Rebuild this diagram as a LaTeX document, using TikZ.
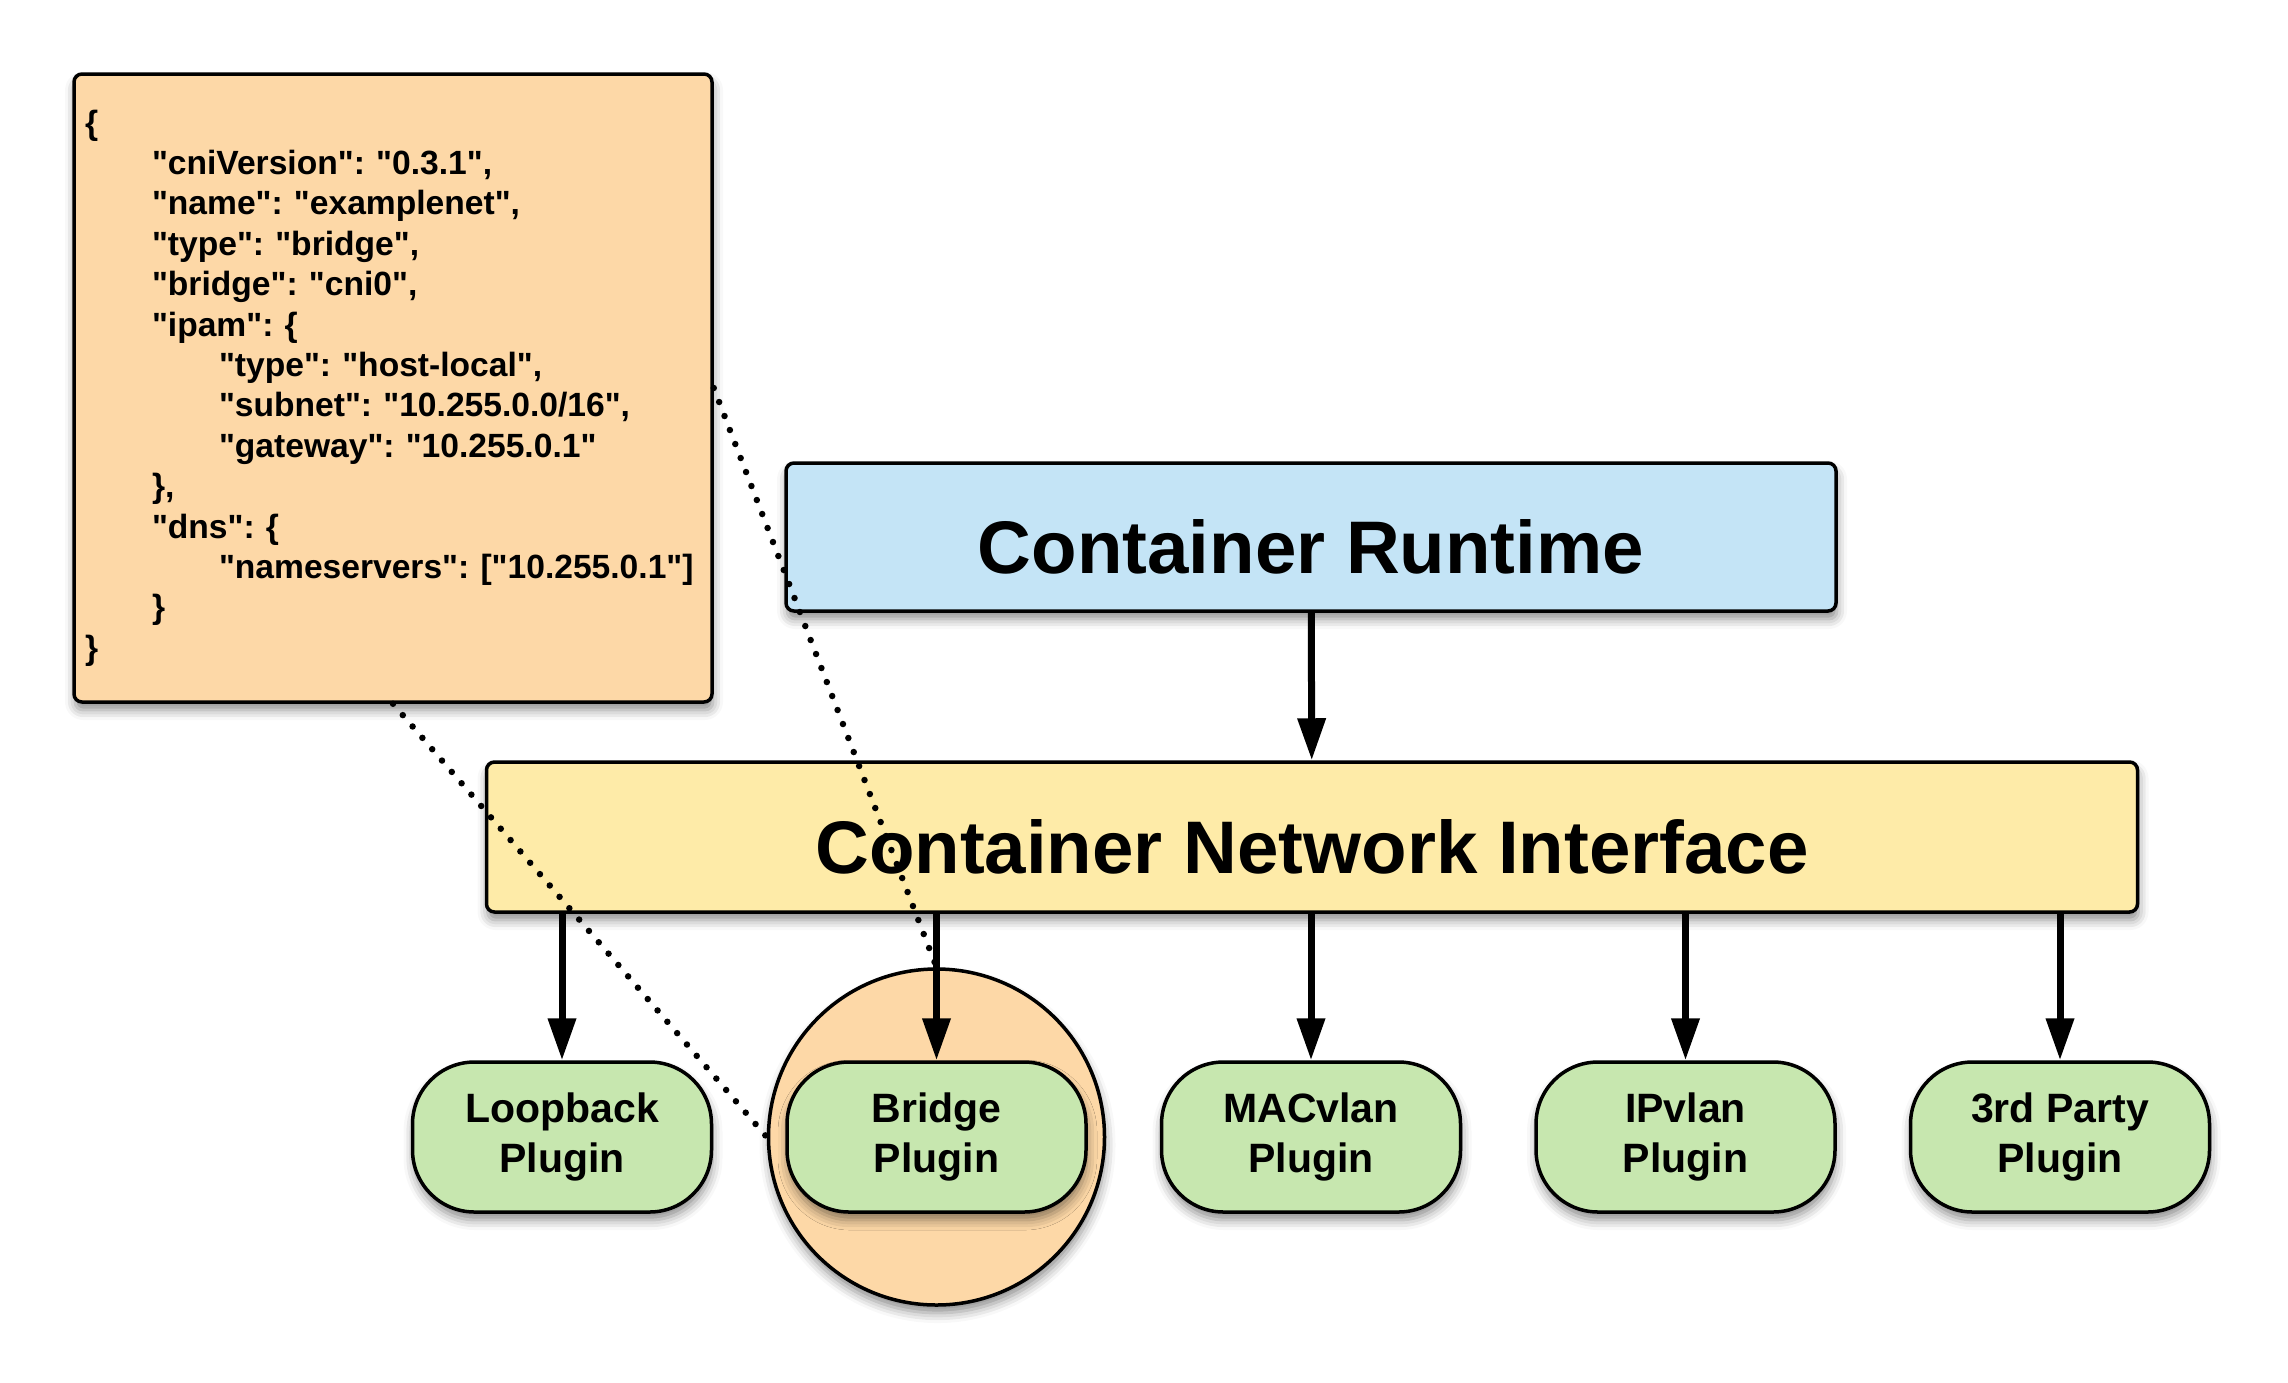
\documentclass[tikz,border=0pt]{standalone}
\usepackage{fontspec}
\setmainfont{Liberation Sans}[Ligatures=TeXOff]
\usetikzlibrary{arrows.meta, positioning, shadows.blur}
\definecolor{jsonorange}{HTML}{FDD8A7}
\definecolor{runtimeblue}{HTML}{C4E4F6}
\definecolor{cniyellow}{HTML}{FEEBA8}
\definecolor{plugingreen}{HTML}{C7E7AF}
\frenchspacing

\begin{document}
\begin{tikzpicture}[x=1pt,y=-1pt,node distance=374.5pt,on grid,
      >={Triangle[length=42pt,width=27pt]},
      % every node/.style={draw,dashed},
      box/.style={draw,line width=3.5pt,rounded corners=8pt,
        blur shadow={shadow xshift=1pt,shadow yshift=-8pt,shadow blur radius=10pt,shadow opacity=45}},
      layer/.style={box,font=\bfseries\fontsize{74.5pt}{89pt}\selectfont,text height=72pt,text depth=0pt},
      plugin/.style={box,fill=plugingreen,rounded corners=62pt,minimum width=299pt,minimum height=150pt,
        align=center,font=\bfseries\fontsize{41pt}{50pt}\selectfont},
      arrow/.style={->,line width=7pt},
      dots/.style={line width=6.5pt,line cap=round,dash pattern=on 0pt off 15pt}]
      \useasboundingbox (0,0) rectangle (2288,1382);
      \node[box,fill=jsonorange,minimum width=638pt,minimum height=628pt,inner sep=0pt,
        text width=616pt,align=left,font=\bfseries\fontsize{33.6pt}{40.4pt}\selectfont] (json) at (393,388)
        {\{\\
         \hspace*{67pt}"cniVersion": "0.3.1",\\
         \hspace*{67pt}"name": "examplenet",\\
         \hspace*{67pt}"type": "bridge",\\
         \hspace*{67pt}"bridge": "cni0",\\
         \hspace*{67pt}"ipam": \{\\
         \hspace*{134pt}"type": "host-local",\\
         \hspace*{134pt}"subnet": "10.255.0.0/16",\\
         \hspace*{134pt}"gateway": "10.255.0.1"\\
         \hspace*{67pt}\},\\
         \hspace*{67pt}"dns": \{\\
         \hspace*{134pt}"nameservers": ["10.255.0.1"]\\
         \hspace*{67pt}\}\\
         \}};
      \node[layer,fill=runtimeblue,minimum width=1050pt,minimum height=148pt] (runtime) at (1311,537) {Container Runtime};
      \node[layer,fill=cniyellow,minimum width=1651pt,minimum height=150pt] (cni) at (1312,837) {Container Network Interface};
      \node[plugin] (p_0) at (562,1137) {Loopback\\Plugin};
      \node[box,circle,fill=jsonorange,minimum size=336pt,rounded corners=0pt] (zoom) [right=of p_0] {};
      \node[plugin] (p_1) [right=of p_0] {Bridge\\Plugin};
      \node[plugin] (p_2) [right=of p_1] {MACvlan\\Plugin};
      \node[plugin] (p_3) [right=of p_2] {IPvlan\\Plugin};
      \node[plugin] (p_4) [right=of p_3] {3rd Party\\Plugin};
      \path[arrow] (runtime) edge (cni);
      \foreach \p in {p_0,p_1,p_2,p_3,p_4}
        \draw[arrow] (cni.south -| \p.north) -- (\p.north);
      \draw[dots] (json.south) -- (zoom.west);
      \draw[dots] (json.east) -- (zoom.north);
    \end{tikzpicture}
\end{document}
